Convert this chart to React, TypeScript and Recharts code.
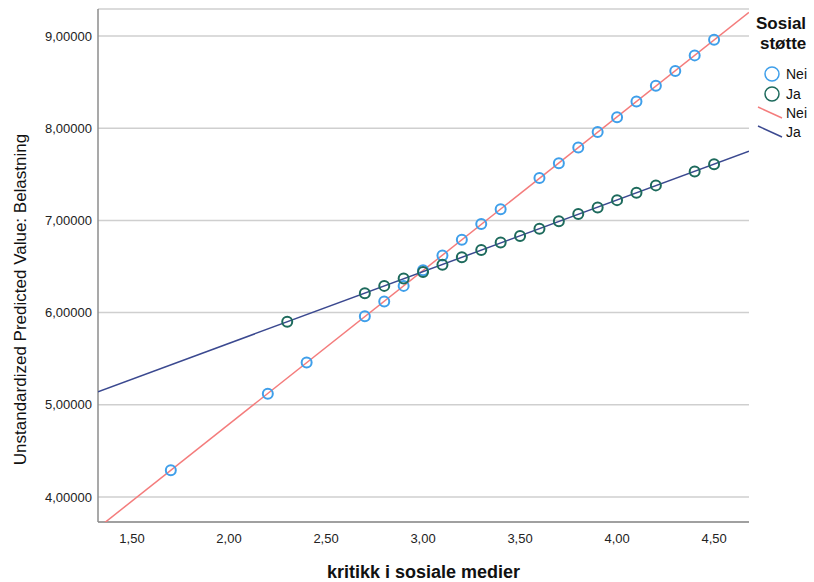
import React from 'react';
import { ScatterChart, Scatter, XAxis, YAxis, CartesianGrid, Label } from 'recharts';

const neiX = [1.7, 2.2, 2.4, 2.7, 2.8, 2.9, 3.0, 3.1, 3.2, 3.3, 3.4, 3.6, 3.7, 3.8, 3.9, 4.0, 4.1, 4.2, 4.3, 4.4, 4.5];
const neiY = [4.29, 5.12, 5.46, 5.96, 6.12, 6.29, 6.46, 6.62, 6.79, 6.96, 7.12, 7.46, 7.62, 7.79, 7.96, 8.12, 8.29, 8.46, 8.62, 8.79, 8.96];
const jaX = [2.3, 2.7, 2.8, 2.9, 3.0, 3.1, 3.2, 3.3, 3.4, 3.5, 3.6, 3.7, 3.8, 3.9, 4.0, 4.1, 4.2, 4.4, 4.5];
const jaY = [5.9, 6.21, 6.29, 6.37, 6.44, 6.52, 6.6, 6.68, 6.76, 6.83, 6.91, 6.99, 7.07, 7.14, 7.22, 7.3, 7.38, 7.53, 7.61];

const xTicks = [1.5, 2.0, 2.5, 3.0, 3.5, 4.0, 4.5];
const yTicks = [4, 5, 6, 7, 8, 9];
const xDomain = [1.3247, 4.68];
const yDomain = [3.729, 9.293];

const NEI_PT = '#3f9fea';
const JA_PT = '#1d6a5c';
const NEI_LINE = '#f47c7c';
const JA_LINE = '#3b4990';
const FONT = '"Liberation Sans", Arial, sans-serif';

const toPoints = (xs: number[], ys: number[]) => xs.map((x, i) => ({ x, y: ys[i] }));

// least squares fit line across the x range (SPSS "fit line at subgroups")
const fitLine = (xs: number[], ys: number[]) => {
  const n = xs.length;
  const mx = xs.reduce((a, b) => a + b, 0) / n;
  const my = ys.reduce((a, b) => a + b, 0) / n;
  let sxy = 0;
  let sxx = 0;
  xs.forEach((x, i) => {
    sxy += (x - mx) * (ys[i] - my);
    sxx += (x - mx) * (x - mx);
  });
  const b = sxy / sxx;
  const a = my - b * mx;
  return xDomain.map((x) => ({ x, y: a + b * x }));
};

const ring = (color: string) => (props: any) => (
  <circle cx={props.cx} cy={props.cy} r={5} fill="none" stroke={color} strokeWidth={2} />
);

const noDot = () => <g />;

const fmt = (d: number) => (v: number) => v.toFixed(d).replace('.', ',');

const YTitle = (props: any) => {
  const vb = props.viewBox;
  const cx = 20;
  const cy = vb.y + vb.height / 2 + 34;
  return (
    <text x={cx} y={cy} transform={`rotate(-90, ${cx}, ${cy})`} textAnchor="middle" dominantBaseline="central"
      fontFamily={FONT} fontSize={17} fill="#111">
      Unstandardized Predicted Value: Belastning
    </text>
  );
};

export default function App() {
  const nei = toPoints(neiX, neiY);
  const ja = toPoints(jaX, jaY);
  const neiFit = fitLine(neiX, neiY);
  const jaFit = fitLine(jaX, jaY);

  return (
    <div style={{ position: 'absolute', left: 0, top: 0, width: 814, height: 582, background: '#fff', fontFamily: FONT }}>
      <ScatterChart width={814} height={582} margin={{ top: 9, right: 65, bottom: 0, left: 10 }}>
        <CartesianGrid vertical={false} stroke="#cfcfcf" strokeWidth={1.5} />
        <XAxis type="number" dataKey="x" domain={xDomain} ticks={xTicks} allowDataOverflow height={60}
          tickFormatter={fmt(2)} tickLine={false} tickSize={6} tickMargin={6}
          axisLine={{ stroke: '#8c8c8c', strokeWidth: 1.5 }}
          tick={{ fill: '#222', fontSize: 13, fontFamily: FONT }}>
          <Label value="kritikk i sosiale medier" position="insideBottom" offset={4}
            style={{ fontSize: 18, fontWeight: 'bold', fill: '#111', fontFamily: FONT }} />
        </XAxis>
        <YAxis type="number" dataKey="y" domain={yDomain} ticks={yTicks} allowDataOverflow width={88}
          tickFormatter={fmt(5)} tickLine={false} tickSize={6} tickMargin={0}
          axisLine={{ stroke: '#8c8c8c', strokeWidth: 1.5 }}
          tick={{ fill: '#222', fontSize: 13, fontFamily: FONT }}>
          <Label content={<YTitle />} />
        </YAxis>
        <Scatter name="Nei fit" data={neiFit} line={{ stroke: NEI_LINE, strokeWidth: 1.5 }} shape={noDot} isAnimationActive={false} />
        <Scatter name="Ja fit" data={jaFit} line={{ stroke: JA_LINE, strokeWidth: 1.5 }} shape={noDot} isAnimationActive={false} />
        <Scatter name="Nei" data={nei} shape={ring(NEI_PT)} isAnimationActive={false} />
        <Scatter name="Ja" data={ja} shape={ring(JA_PT)} isAnimationActive={false} />
      </ScatterChart>
      <svg width={62} height={150} style={{ position: 'absolute', left: 752, top: 14 }}>
        <text x={4} y={15} fontSize={17} fontWeight="bold" fontFamily={FONT} fill="#111">Sosial</text>
        <text x={8} y={35} fontSize={17} fontWeight="bold" fontFamily={FONT} fill="#111">støtte</text>
        <circle cx={20} cy={60} r={7} fill="none" stroke={NEI_PT} strokeWidth={1.5} />
        <text x={34} y={65} fontSize={14} fontFamily={FONT} fill="#111">Nei</text>
        <circle cx={20} cy={80} r={7} fill="none" stroke={JA_PT} strokeWidth={1.5} />
        <text x={34} y={85} fontSize={14} fontFamily={FONT} fill="#111">Ja</text>
        <line x1={6} y1={93} x2={30} y2={104} stroke={NEI_LINE} strokeWidth={1.5} />
        <text x={34} y={104} fontSize={14} fontFamily={FONT} fill="#111">Nei</text>
        <line x1={6} y1={112} x2={30} y2={123} stroke={JA_LINE} strokeWidth={1.5} />
        <text x={34} y={123} fontSize={14} fontFamily={FONT} fill="#111">Ja</text>
      </svg>
    </div>
  );
}
